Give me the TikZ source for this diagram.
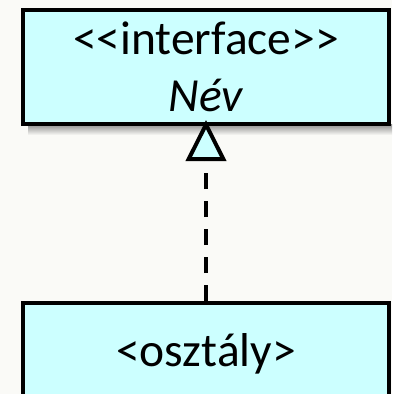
\documentclass[tikz,border=0pt]{standalone}
\usepackage{fontspec}
\setmainfont{Carlito}
\usetikzlibrary{arrows.meta}
\definecolor{bgc}{RGB}{250,250,247}
\definecolor{boxfill}{RGB}{204,255,255}
\tikzset{
  umlbox/.style={draw=black, line width=4pt, fill=boxfill, inner sep=0pt,
    minimum width=366pt, align=center,
    font=\fontsize{47.5}{57}\selectfont},
  realize/.style={line width=4pt, dash pattern=on 16pt off 12pt,
    -{Triangle[length=41pt, width=40pt, fill=boxfill, line width=4pt]},
    shorten >=-6pt},
}
\begin{document}
\begin{tikzpicture}[x=1pt,y=1pt]
  \useasboundingbox[fill=bgc] (0,0) rectangle (392,-394);
  % shadow of the upper box
  \shade[top color=black!45, bottom color=bgc] (28,-124) rectangle (392,-135);
  \node[umlbox, minimum height=114pt] (iface) at (206,-67)
    {<\kern0pt<interface>\kern0pt>\\\textit{Név}};
  \node[umlbox, minimum height=102pt] (cls) at (206,-354) {<osztály>};
  \draw[realize] (cls.north) -- (iface.south);
\end{tikzpicture}
\end{document}
